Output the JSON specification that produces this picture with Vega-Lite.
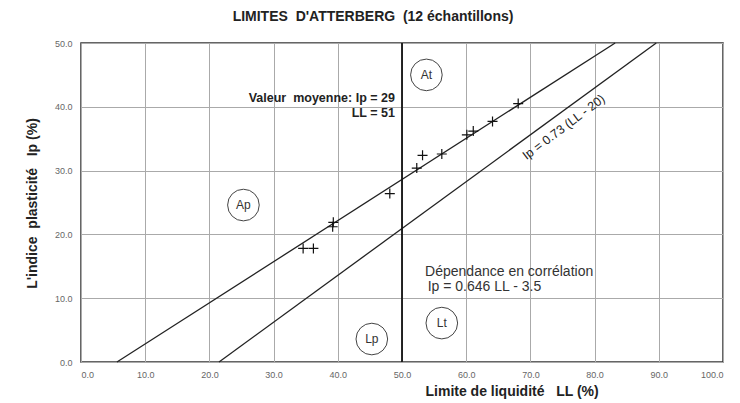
{
  "$schema": "https://vega.github.io/schema/vega-lite/v6.json",
  "width": 642,
  "height": 319,
  "autosize": "none",
  "padding": {"left": 81, "top": 43, "right": 17, "bottom": 41},
  "background": "white",
  "title": {
    "text": "LIMITES\u00a0\u00a0D'ATTERBERG\u00a0\u00a0(12 échantillons)",
    "font": "Liberation Sans",
    "fontSize": 14,
    "fontWeight": "bold",
    "color": "#222",
    "anchor": "middle",
    "dx": -29,
    "offset": 15
  },
  "config": {
    "view": {"stroke": "#333", "strokeWidth": 1.5},
    "axis": {
      "grid": true,
      "gridColor": "#aaa",
      "gridWidth": 1,
      "ticks": false,
      "domain": false,
      "labelFont": "Liberation Sans",
      "labelFontSize": 9,
      "labelColor": "#666",
      "titleFont": "Liberation Sans",
      "titleFontSize": 14,
      "titleFontWeight": "bold",
      "titleColor": "#222"
    },
    "text": {"font": "Liberation Sans"}
  },
  "datasets": {
    "samples": [
      {"LL": 34.6, "Ip": 17.8},
      {"LL": 36.2, "Ip": 17.8},
      {"LL": 39.3, "Ip": 21.9},
      {"LL": 39.2, "Ip": 21.2},
      {"LL": 48.1, "Ip": 26.4},
      {"LL": 52.3, "Ip": 30.4},
      {"LL": 53.2, "Ip": 32.4},
      {"LL": 56.2, "Ip": 32.6},
      {"LL": 60.1, "Ip": 35.6},
      {"LL": 61.1, "Ip": 36.2},
      {"LL": 64.1, "Ip": 37.7},
      {"LL": 68.1, "Ip": 40.5}
    ],
    "lines": [
      {"line": "correlation", "LL": 5.6, "Ip": 0},
      {"line": "correlation", "LL": 83.2, "Ip": 50},
      {"line": "A", "LL": 21.5, "Ip": 0},
      {"line": "A", "LL": 89.6, "Ip": 50}
    ],
    "zones": [
      {"zone": "At", "LL": 53.8, "Ip": 45.0},
      {"zone": "Ap", "LL": 25.3, "Ip": 24.6},
      {"zone": "Lp", "LL": 45.3, "Ip": 3.6},
      {"zone": "Lt", "LL": 56.2, "Ip": 6.1}
    ],
    "boldNotes": [
      {"label": "Valeur\u00a0\u00a0moyenne: Ip = 29", "LL": 48.9, "Ip": 41.4},
      {"label": "LL = 51", "LL": 48.9, "Ip": 39.0}
    ],
    "notes": [
      {"label": "Dépendance en corrélation", "LL": 53.6, "Ip": 14.1},
      {"label": "Ip = 0.646 LL - 3.5", "LL": 54.0, "Ip": 11.8}
    ],
    "lineLabel": [
      {"label": "Ip = 0.73 (LL - 20)", "LL": 75.2, "Ip": 36.8}
    ],
    "mean": [{"LL": 50}]
  },
  "layer": [
    {
      "data": {"name": "lines"},
      "mark": {"type": "line", "color": "#222", "strokeWidth": 1.3},
      "encoding": {
        "x": {
          "field": "LL", "type": "quantitative",
          "scale": {"domain": [0, 100], "nice": false, "zero": false},
          "axis": {
            "values": [0, 10, 20, 30, 40, 50, 60, 70, 80, 90, 100],
            "format": ".1f",
            "labelPadding": 8,
            "title": "Limite de liquidité\u00a0\u00a0\u00a0LL (%)",
            "titleAnchor": "start",
            "titleAlign": "left",
            "titleX": 344,
            "titleY": 29,
            "titleBaseline": "middle"
          }
        },
        "y": {
          "field": "Ip", "type": "quantitative",
          "scale": {"domain": [0, 50], "nice": false},
          "axis": {
            "values": [0, 10, 20, 30, 40, 50],
            "format": ".1f",
            "labelPadding": 9,
            "title": "L'indice\u00a0\u00a0plasticité\u00a0\u00a0\u00a0Ip (%)",
            "titleX": -42,
            "titleY": 160,
            "titleAlign": "center",
            "titleBaseline": "bottom",
            "titleAngle": 270
          }
        },
        "detail": {"field": "line"}
      }
    },
    {
      "data": {"name": "mean"},
      "mark": {"type": "rule", "color": "#111", "strokeWidth": 1.8},
      "encoding": {"x": {"field": "LL", "type": "quantitative"}}
    },
    {
      "data": {"name": "samples"},
      "mark": {"type": "point", "shape": "M-1,0L1,0M0,-1L0,1", "size": 100, "filled": false, "color": "#111", "strokeWidth": 1.2, "opacity": 1},
      "encoding": {
        "x": {"field": "LL", "type": "quantitative"},
        "y": {"field": "Ip", "type": "quantitative"}
      }
    },
    {
      "data": {"name": "zones"},
      "mark": {"type": "point", "shape": "circle", "size": 1000, "filled": false, "color": "#444", "strokeWidth": 1, "opacity": 1},
      "encoding": {
        "x": {"field": "LL", "type": "quantitative"},
        "y": {"field": "Ip", "type": "quantitative"}
      }
    },
    {
      "data": {"name": "zones"},
      "mark": {"type": "text", "fontSize": 12, "color": "#333", "align": "center", "baseline": "middle"},
      "encoding": {
        "x": {"field": "LL", "type": "quantitative"},
        "y": {"field": "Ip", "type": "quantitative"},
        "text": {"field": "zone"}
      }
    },
    {
      "data": {"name": "boldNotes"},
      "mark": {"type": "text", "fontSize": 12.5, "fontWeight": "bold", "color": "#222", "align": "right", "baseline": "middle"},
      "encoding": {
        "x": {"field": "LL", "type": "quantitative"},
        "y": {"field": "Ip", "type": "quantitative"},
        "text": {"field": "label"}
      }
    },
    {
      "data": {"name": "notes"},
      "mark": {"type": "text", "fontSize": 14, "color": "#333", "align": "left", "baseline": "middle"},
      "encoding": {
        "x": {"field": "LL", "type": "quantitative"},
        "y": {"field": "Ip", "type": "quantitative"},
        "text": {"field": "label"}
      }
    },
    {
      "data": {"name": "lineLabel"},
      "mark": {"type": "text", "fontSize": 12.5, "color": "#222", "align": "center", "baseline": "middle", "angle": -37},
      "encoding": {
        "x": {"field": "LL", "type": "quantitative"},
        "y": {"field": "Ip", "type": "quantitative"},
        "text": {"field": "label"}
      }
    }
  ]
}
